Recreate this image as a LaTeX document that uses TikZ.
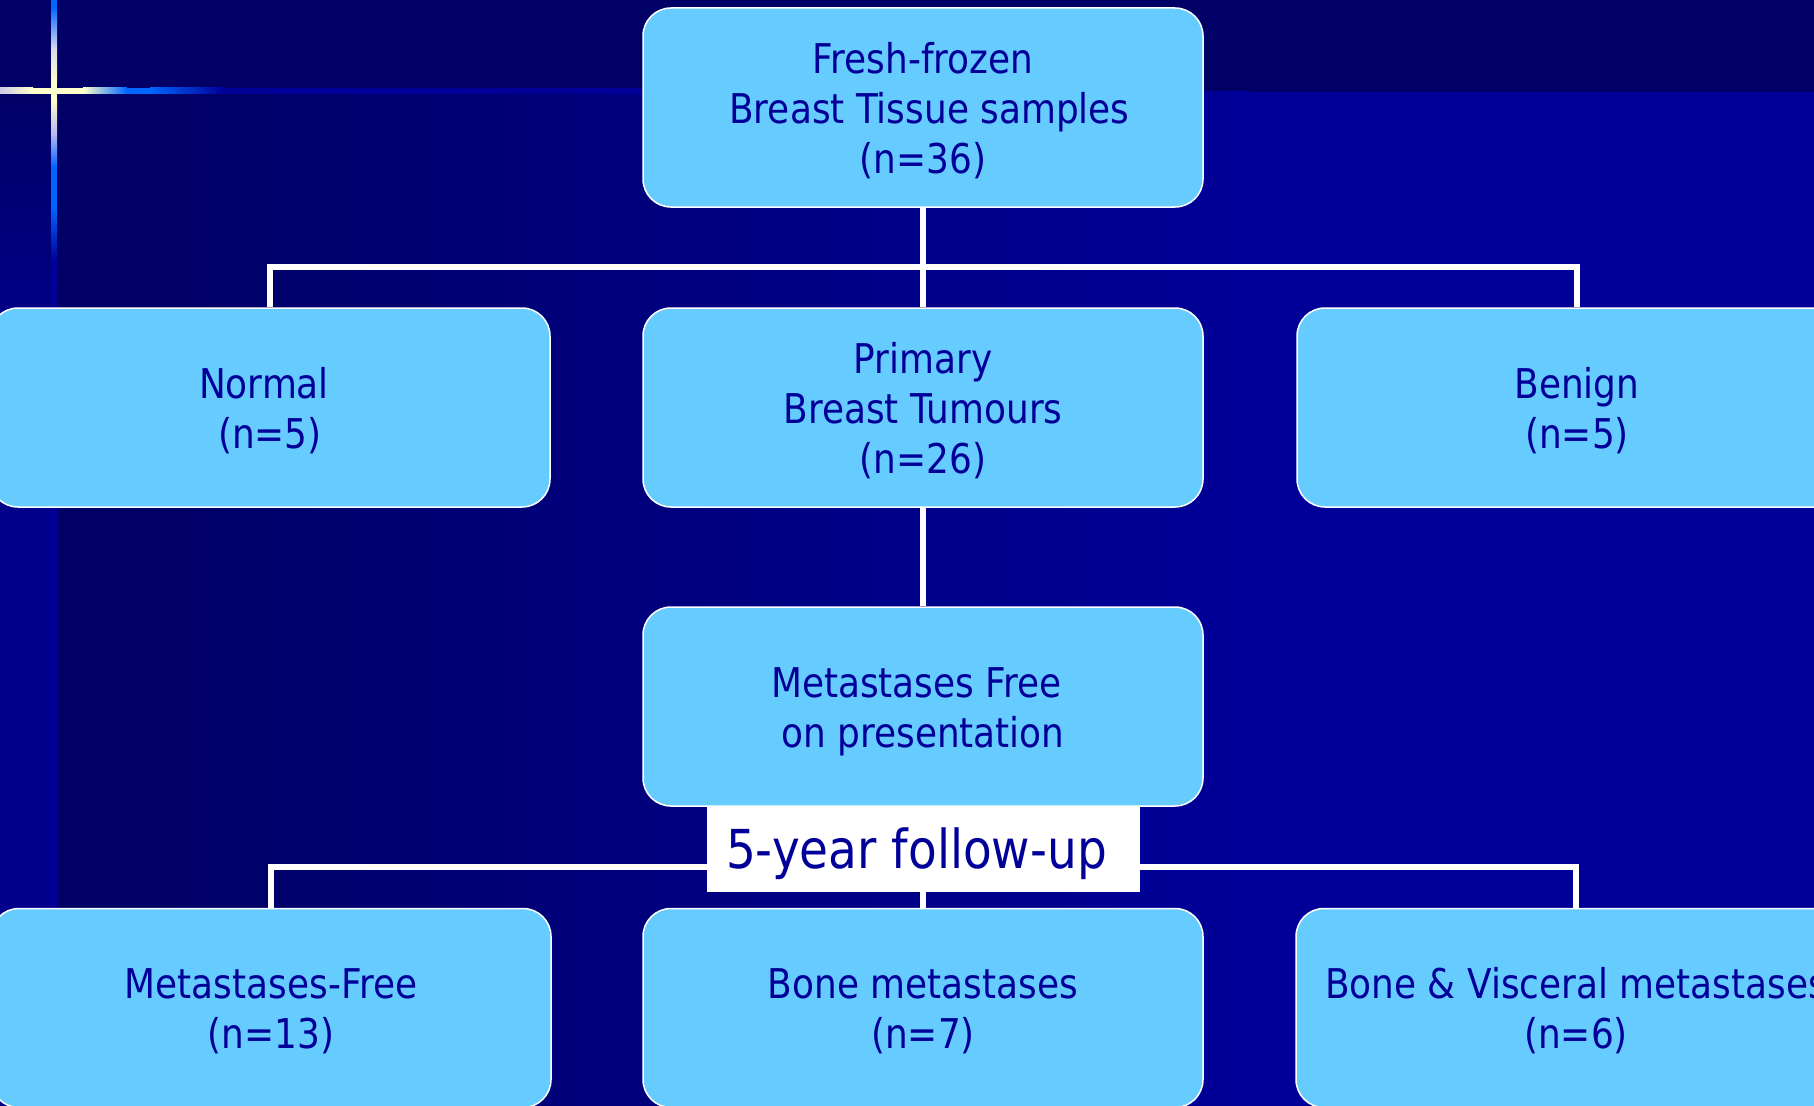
\documentclass[tikz,border=0pt]{standalone}
\usepackage{fontspec}
\setmainfont{DejaVu Sans}[FakeStretch=0.875]
\definecolor{bgdark}{HTML}{000066}
\definecolor{bgblue}{HTML}{000099}
\definecolor{boxfill}{HTML}{66CCFF}
\definecolor{txt}{HTML}{000099}
\definecolor{cream}{HTML}{FFFFCC}
\definecolor{bright}{HTML}{0066FF}
\definecolor{strip}{HTML}{00008C}
\definecolor{lav}{HTML}{BBBBEE}
\definecolor{pale}{HTML}{DDDDEE}
\pgfdeclarelayer{back}
\pgfdeclarelayer{lines}
\pgfsetlayers{back,lines,main}
\newcommand{\boxtext}[2][6pt]{\raisebox{-#1}[\height][\depth]{\begin{tabular}{@{}c@{}}#2\end{tabular}}}
\begin{document}
\begin{tikzpicture}[x=1pt,y=-1pt,
  box/.style={draw=white, line width=1.5pt, fill=boxfill, rounded corners=28pt,
    minimum width=560pt, minimum height=199pt, text=txt,
    font=\fontsize{41pt}{50pt}\selectfont, inner sep=0pt},
  conn/.style={draw=white, line width=6pt, line join=miter},
  fubox/.style={fill=white, minimum width=433pt, minimum height=86pt, text=txt,
    font=\fontsize{53.7pt}{60pt}\selectfont, inner sep=0pt}]
\useasboundingbox (0,0) rectangle (1814,1105);
\begin{pgfonlayer}{back}
\fill[bgdark] (-10,-10) rectangle (1824,1115);
\shade[left color=bgdark, right color=bgblue] (150,92) rectangle (1250,1115);
\fill[bgblue] (1249,92) rectangle (1824,1115);
\shade[top color=bgdark, bottom color=strip] (-10,92) rectangle (51,350);
\fill[strip] (-10,349) rectangle (51,1115);
% vertical glow line
\fill[bright] (51,-10) rectangle (57,7);
\shade[top color=bright, bottom color=pale] (51,7) rectangle (57,50);
\shade[top color=pale, bottom color=cream] (51,50) rectangle (57,83);
\fill[cream] (51,83) rectangle (57,100);
\shade[top color=cream, bottom color=lav] (51,100) rectangle (57,133);
\shade[top color=lav, bottom color=bright] (51,133) rectangle (57,167);
\fill[bright] (51,167) rectangle (57,207);
\shade[top color=bright, bottom color=bgblue] (51,207) rectangle (57,260);
\fill[bgblue] (51,260) rectangle (57,1115);
% horizontal glow line
\shade[left color=lav, right color=cream] (-10,88) rectangle (33,94);
\fill[cream] (33,88) rectangle (83,94);
\shade[left color=cream, right color=bright] (83,88) rectangle (127,94);
\fill[bright] (127,88) rectangle (150,94);
\shade[left color=bright, right color=bgblue] (150,88) rectangle (223,94);
\fill[bgblue] (223,88) rectangle (650,94);
\end{pgfonlayer}

\node[box] (top) at (923,107.5) {\boxtext{Fresh-frozen\\ \hspace{13pt}Breast Tissue samples\\(n=36)}};
\node[box] (normal) at (270,407.5) {\boxtext{Normal\hspace*{12pt}\\ (n=5)}};
\node[box] (prim) at (923,407.5) {\boxtext{Primary\\ Breast Tumours\\(n=26)}};
\node[box] (benign) at (1577,407.5) {\boxtext{Benign\\(n=5)}};
\node[box] (mfp) at (923,706.5) {\boxtext{Metastases Free\hspace*{13pt}\\ on presentation}};
\node[box] (mf13) at (271,1008) {\boxtext[5pt]{Metastases-Free\\(n=13)}};
\node[box] (bone) at (923,1008) {\boxtext[5pt]{Bone metastases\\(n=7)}};
\node[box] (visc) at (1576,1008) {\boxtext[5pt]{Bone \& Visceral metastases\\(n=6)}};
\coordinate (bus1) at (923,267);
\coordinate (bus2) at (923,867);

\begin{pgfonlayer}{lines}
\draw[conn] (top.south) -- (prim.north);
\draw[conn] (normal.north) -- (normal.north |- bus1) -| (benign.north);
\draw[conn] (prim.south) -- (mfp.north);
\draw[conn] (mfp.south) -- (bone.north);
\draw[conn] (mf13.north) -- (mf13.north |- bus2) -| (visc.north);
\end{pgfonlayer}

\node[fubox] (fu) at (923.5,849) {\raisebox{-5pt}[\height][\depth]{5-year follow-up}\hspace*{14pt}};
\end{tikzpicture}
\end{document}
